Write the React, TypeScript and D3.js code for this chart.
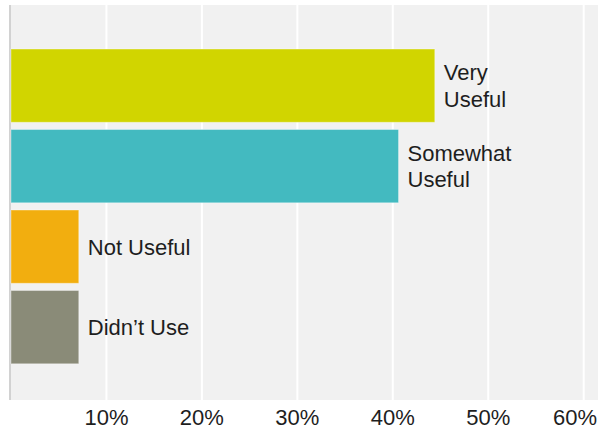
import React from "react";
import * as d3 from "d3";

const categories = ["Very Useful", "Somewhat Useful", "Not Useful", "Didn’t Use"];
const labelLines = [["Very", "Useful"], ["Somewhat", "Useful"], ["Not Useful"], ["Didn’t Use"]];
const values = [44.4, 40.6, 7.1, 7.1];
const colors = ["#D1D500", "#43BAC0", "#F2AE0F", "#8A8B78"];
const ticks = [10, 20, 30, 40, 50, 60];
const tickLabels = ["10%", "20%", "30%", "40%", "50%", "60%"];

const W = 601;
const H = 429;
const plotLeft = 11;
const plotRight = 598;
const plotTop = 5;
const plotBottom = 400;

export default function App() {
  const x = d3.scaleLinear().domain([0, 61.5]).range([plotLeft, plotRight]);
  const y = d3
    .scaleBand<string>()
    .domain(categories)
    .range([45.4, 367.4])
    .paddingInner(0.09)
    .paddingOuter(0.045);
  const font = "'Liberation Sans', Arial, Helvetica, sans-serif";
  const lineH = 26.5;
  const halfLabel = 22;
  return (
    <svg
      width={W}
      height={H}
      style={{ position: "absolute", left: 0, top: 0, background: "#fff" }}
      fontFamily={font}
    >
      <rect x={plotLeft - 2} y={plotTop} width={plotRight - plotLeft + 2} height={plotBottom - plotTop} fill="#F1F1F1" />
      {ticks.map((t) => (
        <line key={t} x1={x(t)} x2={x(t)} y1={plotTop} y2={plotBottom} stroke="#FFFFFF" strokeWidth={2} />
      ))}
      <line x1={plotLeft - 1} x2={plotLeft - 1} y1={plotTop} y2={plotBottom} stroke="#D2D2D2" strokeWidth={2} />
      {categories.map((c, i) => {
        const y0 = y(c)!;
        const bw = y.bandwidth();
        const xe = x(values[i]);
        const lines = labelLines[i];
        const cy = y0 + bw / 2;
        const firstBaseline = cy + 8 - ((lines.length - 1) * lineH) / 2;
        return (
          <g key={c}>
            <rect x={x(0)} y={y0} width={xe - x(0)} height={bw} fill={colors[i]} stroke="#ffffff" strokeOpacity={0.35} strokeWidth={1} />
            <text x={xe + 9} y={firstBaseline} fontSize={22} fill="#1E1E1E">
              {lines.map((l, j) => (
                <tspan key={j} x={xe + 9} y={firstBaseline + j * lineH}>
                  {l}
                </tspan>
              ))}
            </text>
          </g>
        );
      })}
      {ticks.map((t, i) => (
        <text
          key={t}
          x={Math.min(x(t), W - 4 - halfLabel)}
          y={425}
          textAnchor="middle"
          fontSize={22}
          fill="#1E1E1E"
        >
          {tickLabels[i]}
        </text>
      ))}
    </svg>
  );
}
